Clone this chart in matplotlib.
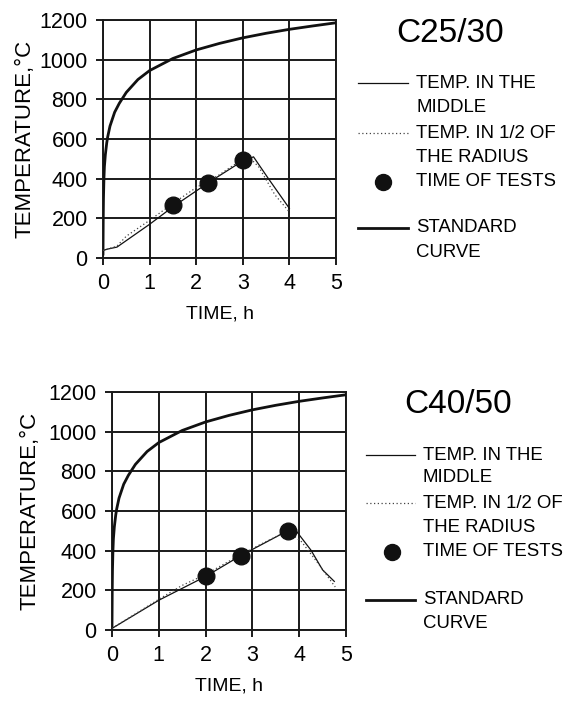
import numpy as np
import matplotlib
matplotlib.use('Agg')
import matplotlib.pyplot as plt
from matplotlib.lines import Line2D

plt.rcParams['font.family'] = ['Liberation Sans', 'DejaVu Sans']

# standard fire curve
std_t = [0, 0.005, 0.01, 0.02, 0.03, 0.05, 0.08, 0.1, 0.15, 0.25, 0.35, 0.5, 0.75, 1.0, 1.5, 2.0, 2.5, 3.0, 3.5, 4.0, 4.5, 5.0]
std_T = [20, 200, 300, 400, 460, 520, 580, 610, 665, 735, 780, 835, 900, 945, 1006, 1049, 1082, 1110, 1133, 1153, 1170, 1186]

# C25/30
a_mid_t = [0, 0.1, 0.3, 1.0, 1.5, 2.25, 3.0, 3.23, 3.55, 4.0]
a_mid_T = [38, 45, 55, 170, 258, 378, 490, 510, 400, 250]
a_half_t = [0, 0.1, 0.3, 0.5, 1.0, 1.5, 2.0, 2.5, 3.0, 3.15, 3.34, 3.69, 4.0]
a_half_T = [38, 45, 60, 110, 190, 275, 355, 420, 500, 505, 460, 318, 232]
a_test_t = [1.5, 2.25, 3.0]
a_test_T = [265, 380, 495]

# C40/50
b_mid_t = [0, 1.0, 2.0, 2.75, 3.75, 3.95, 4.25, 4.5, 4.75]
b_mid_T = [8, 150, 270, 375, 500, 495, 403, 303, 245]
b_half_t = [0, 1.0, 1.5, 2.0, 2.75, 3.2, 3.5, 3.75, 4.05, 4.4, 4.77]
b_half_T = [8, 155, 225, 280, 380, 435, 470, 498, 445, 337, 217]
b_test_t = [2.0, 2.75, 3.75]
b_test_T = [270, 375, 500]

fig = plt.figure(figsize=(5.66, 7.02), dpi=100)
W, H = 566, 702


def panel(rect, mid_t, mid_T, half_t, half_T, test_t, test_T, ylpad):
    ax = fig.add_axes(rect)
    ax.plot(std_t, std_T, color='#111111', lw=2.0, zorder=3)
    ax.plot(mid_t, mid_T, color='#111111', lw=0.9, zorder=3)
    ax.plot(half_t, half_T, color='#444444', lw=0.9, ls=(0, (1, 2)), zorder=3)
    ax.plot(test_t, test_T, 'o', color='#111111', ms=12, zorder=4)
    ax.set_xlim(0, 5)
    ax.set_ylim(0, 1200)
    ax.set_xticks(range(0, 6))
    ax.set_yticks(range(0, 1201, 200))
    ax.grid(True, color='#1a1a1a', lw=1.4)
    for s in ax.spines.values():
        s.set_linewidth(1.4)
        s.set_color('#1a1a1a')
    ax.tick_params(direction='out', length=5, width=1.4, color='#1a1a1a',
                   labelsize=15.5, pad=6)
    ax.set_xlabel('TIME, h', fontsize=14, labelpad=8)
    ax.set_ylabel('TEMPERATURE,°C', fontsize=16, labelpad=ylpad)
    return ax


panel([103 / W, 1 - 258 / H, 233 / W, 238 / H],
      a_mid_t, a_mid_T, a_half_t, a_half_T, a_test_t, a_test_T, 3)
panel([112 / W, 1 - 630 / H, 234 / W, 238 / H],
      b_mid_t, b_mid_T, b_half_t, b_half_T, b_test_t, b_test_T, 6)


def legend(title, tx, ty, lx0, lx1, textx, rows, mx):
    fig.text(tx / W, 1 - ty / H, title, fontsize=24, ha='center', va='center')
    r = rows
    fig.add_artist(Line2D([lx0 / W, lx1 / W], [1 - r[0] / H] * 2, color='#111111', lw=0.9))
    fig.add_artist(Line2D([lx0 / W, lx1 / W], [1 - r[2] / H] * 2, color='#444444', lw=0.9, ls=(0, (1, 2))))
    fig.add_artist(Line2D([mx / W], [1 - r[4] / H], marker='o', color='#111111', ms=11.5, ls='none'))
    fig.add_artist(Line2D([lx0 / W, lx1 / W], [1 - r[5] / H] * 2, color='#111111', lw=2.0))
    labels = ['TEMP. IN THE', 'MIDDLE', 'TEMP. IN 1/2 OF', 'THE RADIUS', 'TIME OF TESTS', 'STANDARD', 'CURVE']
    for lab, y in zip(labels, r):
        fig.text(textx / W, 1 - y / H, lab, fontsize=13.4, ha='left', va='center')


legend('C25/30', 450, 34, 358, 408, 416, [83, 108, 133, 157, 182, 228, 252], 383)
legend('C40/50', 458, 405, 366, 415, 423, [455, 478, 503, 527, 552, 600, 623], 392)

fig.savefig('out.png', dpi=100)
